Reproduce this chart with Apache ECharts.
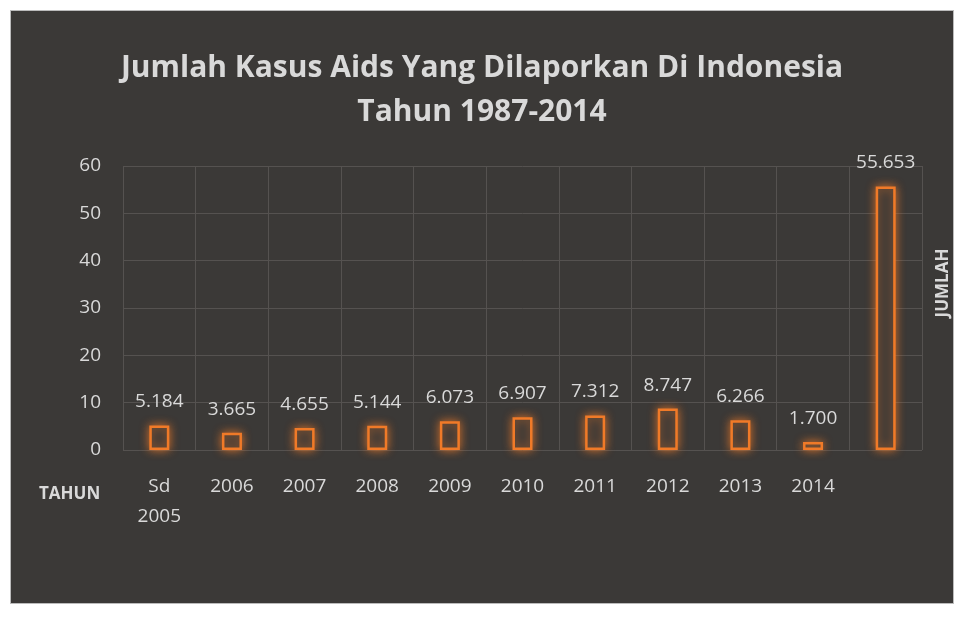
<!DOCTYPE html>
<html><head><meta charset="utf-8">
<script src="https://cdn.jsdelivr.net/npm/echarts@6/dist/echarts.min.js"></script>
<style>html,body{margin:0;background:#fff}#c{position:absolute;left:10px;top:10px;width:944px;height:594px;border:1px solid #bbb;box-sizing:border-box}</style>
</head><body><div id="c"></div>
<script>
var categories=['Sd\n2005','2006','2007','2008','2009','2010','2011','2012','2013','2014',''];
var values=[5.184,3.665,4.655,5.144,6.073,6.907,7.312,8.747,6.266,1.700,55.653];
var labels=['5.184','3.665','4.655','5.144','6.073','6.907','7.312','8.747','6.266','1.700','55.653'];
var yTicks=[0,10,20,30,40,50,60];
var ch=echarts.init(document.getElementById('c'));
var font='"Open Sans","Noto Sans",sans-serif';
ch.setOption({
backgroundColor:'#3b3937',
title:{text:'Jumlah Kasus Aids Yang Dilaporkan Di Indonesia\nTahun 1987-2014',left:'center',top:30,
 textStyle:{color:'#d9d9d9',fontSize:30,fontWeight:'bold',fontFamily:font,lineHeight:44}},
grid:{left:112,right:31,top:155,bottom:153},
xAxis:{type:'category',data:categories,axisLine:{show:false},axisTick:{show:false},
 splitLine:{show:true,lineStyle:{color:'#555250'}},
 axisLabel:{color:'#d9d9d9',fontSize:19,fontFamily:font,margin:22,lineHeight:30,verticalAlign:'top'}},
yAxis:{type:'value',min:0,max:60,interval:10,axisLine:{show:false},axisTick:{show:false},
 splitLine:{lineStyle:{color:'#555250'}},
 axisLabel:{color:'#d9d9d9',fontSize:19,fontFamily:font,margin:22}},
graphic:[
 {type:'text',left:28,top:475,style:{text:'TAHUN',fill:'#d9d9d9',font:'bold 17px '+font}},
 {type:'text',x:932,y:272,rotation:Math.PI/2,style:{text:'JUMLAH',fill:'#d9d9d9',font:'bold 17px '+font,align:'center',verticalAlign:'middle'}}
],
series:[{type:'bar',data:values,barWidth:20,
 itemStyle:{color:'#3e3a37',borderColor:'#f07a28',borderWidth:2.5,shadowColor:'rgba(240,122,40,0.8)',shadowBlur:10},
 label:{show:true,position:'top',distance:14,color:'#d9d9d9',fontSize:19,fontFamily:font,
  formatter:function(p){return labels[p.dataIndex];}}}]
});
</script></body></html>
